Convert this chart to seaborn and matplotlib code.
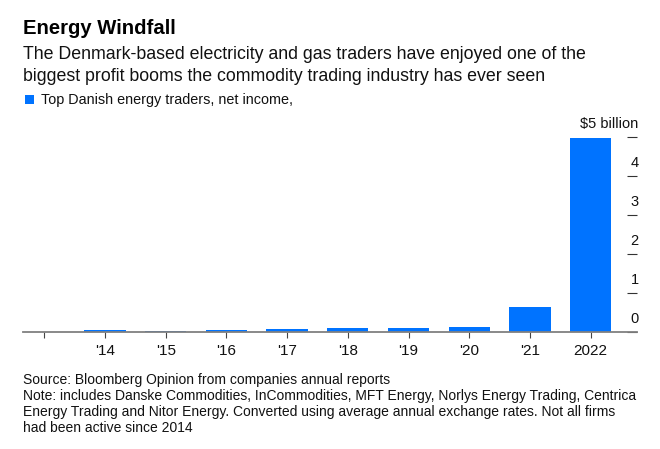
import numpy as np
import pandas as pd
import matplotlib
matplotlib.use("Agg")
import matplotlib.pyplot as plt
import matplotlib.transforms as mtransforms
from matplotlib.patches import Rectangle
import seaborn as sns

# data (net income, $ billion)
years = ["", "'14", "'15", "'16", "'17", "'18", "'19", "'20", "'21", "2022"]
net_income = [0.0, 0.045, 0.02, 0.045, 0.075, 0.095, 0.095, 0.12, 0.64, 4.96]
y_ticks = [0, 1, 2, 3, 4, 5]
y_labels = ["0", "1", "2", "3", "4", "$5 billion"]

title = "Energy Windfall"
subtitle = ["The Denmark-based electricity and gas traders have enjoyed one of the",
            "biggest profit booms the commodity trading industry has ever seen"]
legend_label = "Top Danish energy traders, net income,"
footer = ["Source: Bloomberg Opinion from companies annual reports",
          "Note: includes Danske Commodities, InCommodities, MFT Energy, Norlys Energy Trading, Centrica",
          "Energy Trading and Nitor Energy. Converted using average annual exchange rates. Not all firms",
          "had been active since 2014"]

blue = "#0073FF"

sns.set_theme(style="white")
plt.rcParams["font.family"] = ["Liberation Sans", "DejaVu Sans"]

W, H = 660, 449
fig = plt.figure(figsize=(6.6, 4.49), dpi=100)
ax = fig.add_axes([22.7 / W, 1 - 331.7 / H, (636.5 - 22.7) / W, 195 / H])

df = pd.DataFrame({"year": years, "income": net_income})
sns.barplot(data=df, x="year", y="income", order=years, color=blue,
            saturation=1, width=0.68, linewidth=0, errorbar=None, ax=ax)

ax.set_xlim(-0.356, 9.756)
ax.set_ylim(0, 5)
ax.set_xlabel("")
ax.set_ylabel("")

for s in ["top", "left", "right"]:
    ax.spines[s].set_visible(False)
ax.spines["bottom"].set_color("#808080")
ax.spines["bottom"].set_linewidth(1.3)
ax.spines["bottom"].set_zorder(5)

ax.tick_params(axis="x", bottom=True, length=4, width=0.8, color="#444444",
               pad=5, labelsize=11, labelcolor="#111111")

ax.yaxis.tick_right()
ax.set_yticks(y_ticks)
ax.set_yticklabels([])
ax.tick_params(axis="y", right=True, direction="in", length=7.5, width=0.8,
               color="#333333")

# y labels sit above their tick marks
lab_trans = mtransforms.offset_copy(
    mtransforms.blended_transform_factory(ax.transAxes, ax.transData),
    fig=fig, x=2, y=8.5, units="dots")
for v, lab in zip(y_ticks, y_labels):
    ax.text(1.0, v, lab, transform=lab_trans, ha="right", va="baseline",
            fontsize=10.5, color="#111111")

fig.text(23 / W, 1 - 34.3 / H, title, fontsize=14.6, fontweight="bold",
         va="baseline", color="#000000")
for i, line in enumerate(subtitle):
    fig.text(23 / W, 1 - (59 + 22 * i) / H, line, fontsize=12.75,
             va="baseline", color="#111111")

fig.patches.append(Rectangle((25 / W, 1 - 104.3 / H), 9 / W, 9 / H,
                             transform=fig.transFigure, color=blue, lw=0))
fig.text(41 / W, 1 - 104 / H, legend_label, fontsize=10.4, va="baseline",
         color="#111111")

for i, line in enumerate(footer):
    fig.text(23 / W, 1 - (383.7 + 16.2 * i) / H, line, fontsize=10,
             va="baseline", color="#111111")

fig.savefig("out.png", dpi=100)
